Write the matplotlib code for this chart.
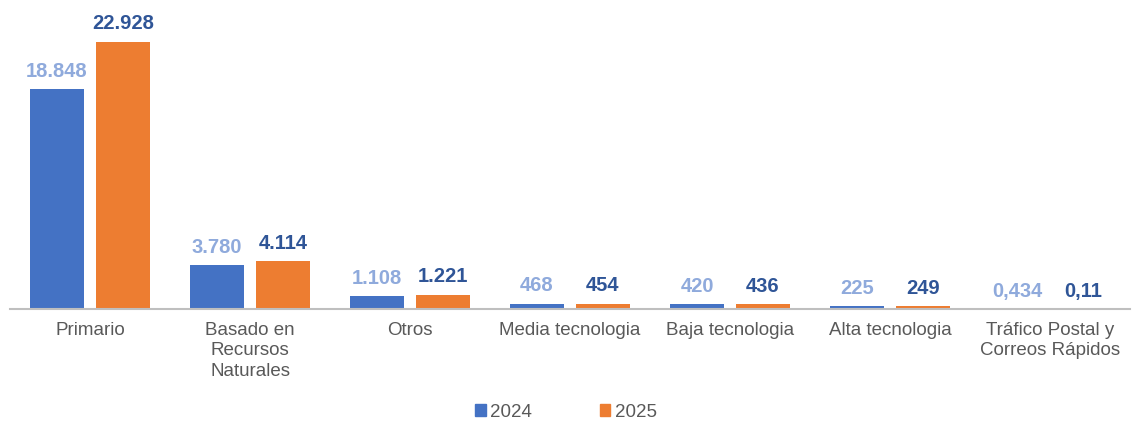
import numpy as np
import matplotlib
matplotlib.use('Agg')
import matplotlib.pyplot as plt
from matplotlib.patches import Patch

plt.rcParams['font.family'] = ['Liberation Sans', 'DejaVu Sans']

# --- data (miles) ---
categories = ['Primario', 'Basado en\nRecursos\nNaturales', 'Otros', 'Media tecnologia',
              'Baja tecnologia', 'Alta tecnologia', 'Tráfico Postal y\nCorreos Rápidos']
values_2024 = [18848, 3780, 1108, 468, 420, 225, 0.434]
values_2025 = [22928, 4114, 1221, 454, 436, 249, 0.11]
labels_2024 = ['18.848', '3.780', '1.108', '468', '420', '225', '0,434']
labels_2025 = ['22.928', '4.114', '1.221', '454', '436', '249', '0,11']

c24 = '#4472C4'
c25 = '#ED7D31'
lab24 = '#8FAADC'
lab25 = '#2F5597'

fig = plt.figure(figsize=(11.32, 4.23), dpi=100)
ax = fig.add_axes([10 / 1132, 114 / 423, 1120 / 1132, 309 / 423])

x = np.arange(len(categories))
w = 0.34
off = 0.206
b1 = ax.bar(x - off, values_2024, w, color=c24)
b2 = ax.bar(x + off, values_2025, w, color=c25)

for rect, txt in zip(b1, labels_2024):
    ax.annotate(txt, (rect.get_x() + rect.get_width() / 2, rect.get_height()),
                xytext=(0, 6), textcoords='offset points', ha='center', va='bottom',
                fontsize=14.5, fontweight='bold', color=lab24)
for rect, txt in zip(b2, labels_2025):
    ax.annotate(txt, (rect.get_x() + rect.get_width() / 2, rect.get_height()),
                xytext=(0, 6), textcoords='offset points', ha='center', va='bottom',
                fontsize=14.5, fontweight='bold', color=lab25)

ax.set_xlim(-0.5, len(categories) - 0.5)
ax.set_ylim(0, 26500)
ax.set_xticks(x)
ax.set_xticklabels(categories, fontsize=13.5, color='#595959', linespacing=1.3)
ax.tick_params(axis='x', length=0, pad=9)
ax.set_yticks([])
for s in ['top', 'right', 'left']:
    ax.spines[s].set_visible(False)
ax.spines['bottom'].set_color('#BFBFBF')
ax.spines['bottom'].set_linewidth(1.5)

handles = [Patch(color=c24, label='2024'), Patch(color=c25, label='2025')]
fig.legend(handles=handles, loc='center', bbox_to_anchor=(0.5, 1 - 412 / 423), ncol=2,
           frameon=False, fontsize=13.5, handlelength=0.55, handleheight=0.55,
           handletextpad=0.25, columnspacing=3.6, labelcolor='#595959')

fig.savefig('out.png', dpi=100)
